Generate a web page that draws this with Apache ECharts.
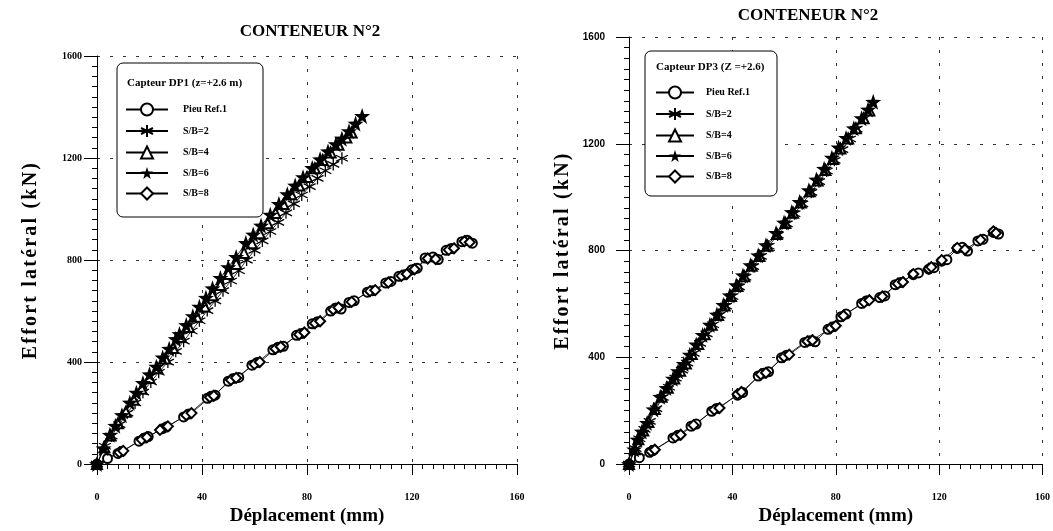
<!DOCTYPE html>
<html><head><meta charset="utf-8">
<script src="https://cdn.jsdelivr.net/npm/echarts@6/dist/echarts.min.js"></script>
<style>
html,body{margin:0;padding:0;background:#fff}
#c{width:1053px;height:531px}
</style>
</head><body><div id="c"></div><script>
// ---------- DATA ----------
const seriesNames = ['Pieu Ref.1','S/B=2','S/B=4','S/B=6','S/B=8'];
const chartTitles = ['CONTENEUR N°2','CONTENEUR N°2'];
const legendTitles = ['Capteur DP1 (z=+2.6 m)','Capteur DP3 (Z =+2.6)'];
const xAxisName = 'Déplacement (mm)';
const yAxisName = 'Effort latéral (kN)';
const xRange = [0,160,40];
const yRange = [0,1600,400];

// Left chart (DP1): [déplacement mm, effort kN]
const pieuL = [[0,0],[4,22],[8,42],[9.5,50],[16,90],[18,102],[19.5,108],[25,139],[26.5,146],[33,185],[35,196],[42,258],[43.5,266],[45,270],[50,325],[52,336],[54,340],[59,388],[61,398],[67,448],[69,458],[71,462],[76,505],[78,512],[82,550],[84,558],[89,600],[91,612],[93,608],[96,634],[98,640],[103,674],[105,680],[110,710],[112,716],[115,736],[117,742],[120,762],[122,768],[125,808],[128,812],[130,802],[133,838],[135,845],[139,872],[141,878],[143,866]];
const sb2L = [[0,0],[3,70],[5.5,110],[8.5,155],[11.5,200],[14.5,240],[17.5,282],[20.5,322],[23.5,360],[27,400],[30,442],[33,482],[36,522],[39,562],[42,602],[45,640],[48,680],[51,718],[54,758],[57,800],[60,838],[63,875],[66,912],[69,948],[72,985],[75,1020],[78,1055],[81,1088],[84,1120],[87,1150],[90,1175],[93.3,1199]];
const sb4L = [[0,0],[2.8,66],[5.2,112],[8,160],[11,205],[14,252],[17,295],[20,338],[23,376],[26,414],[29,455],[32,498],[35,538],[38,578],[41,618],[44,662],[47,702],[50,745],[53,785],[56,828],[59,866],[62,905],[65,944],[68,984],[71,1020],[74,1058],[77,1092],[80,1126],[83,1160],[86,1192],[89,1222],[92,1252],[95,1280],[97,1300]];
const sb6L = [[0,0],[2.5,62],[4.9,115],[7,150],[9.5,192],[12.5,241],[15,280],[17.5,318],[20,352],[22.6,382],[25,418],[27.5,452],[30,490],[31.4,510],[34,545],[36.5,580],[39,617],[41.5,652],[44,689],[47,730],[50,772],[53,812],[56.7,867],[59.5,900],[62.5,935],[66,978],[69.3,1020],[72.5,1058],[75.5,1092],[78.5,1125],[82,1161],[85,1195],[88,1226],[91,1254],[93.3,1276],[96,1305],[98.5,1335],[101,1365]];
const sb8L = [[0,0],[8.5,46],[10,52],[17,96],[19,105],[24,134],[27,148],[34,192],[36,200],[43,262],[44.5,268],[51,330],[53,338],[60,392],[62,400],[68,452],[70,460],[77,508],[79,516],[83,552],[85,560],[90,606],[92,614],[97,636],[104,678],[106,682],[111,712],[116,738],[118,745],[121,764],[126,806],[129,804],[134,840],[136,846],[140,874],[142,870]];

// Right chart (DP3)
const pieuR = [[0,0],[4,24],[8,44],[9.5,52],[17,98],[19,108],[24,142],[26,150],[32,198],[34,208],[42,258],[44,268],[50,330],[52,340],[54,346],[59,398],[61,408],[68,456],[70,462],[72,458],[77,505],[79,515],[82,552],[84,562],[90,602],[92,612],[97,624],[99,630],[103,672],[105,680],[110,710],[112,716],[116,730],[118,736],[121,760],[123,766],[127,808],[129,812],[131,798],[135,836],[137,842],[141,868],[143,862]];
const sb2R = [[0,0],[2.5,58],[4,95],[6,130],[8,160],[10.5,208],[13,250],[15.5,288],[18,322],[20.5,352],[22.5,378],[25,415],[27.5,452],[30,488],[32.5,522],[35,558],[37.5,592],[40,628],[42.5,664],[45,700],[48,740],[51,778],[54,816],[57.5,858],[61,900],[64,938],[67,975],[70.5,1018],[73.5,1058],[76.5,1098],[79.5,1138],[82.5,1178],[85.5,1218],[88,1255]];
const sb4R = [[0,0],[2.2,56],[3.6,93],[5.5,126],[7.5,158],[10,206],[12.6,252],[15,286],[17.5,321],[19.8,350],[22,377],[24.3,412],[26.8,450],[29.3,486],[32,522],[34.5,559],[37,594],[39.5,630],[42,667],[44.6,704],[47.5,743],[50.5,780],[53.5,818],[57.2,862],[60.5,903],[63.5,942],[66.5,980],[70,1022],[73,1062],[76,1102],[79,1143],[81.8,1182],[84.8,1220],[87.8,1258],[90.8,1296],[93,1325]];
const sb6R = [[0,0],[2,55],[3.3,92],[5,122],[7,154],[9.5,205],[12.1,252],[14.5,285],[17,320],[19,348],[21.2,375],[23.5,410],[26,448],[28.5,484],[31.3,522],[34,560],[36.5,596],[39,632],[41.5,670],[44.1,707],[47,745],[50,782],[53,820],[56.9,866],[60,905],[63,944],[66,982],[69.6,1026],[72.5,1066],[75.5,1106],[78.5,1148],[81.1,1186],[84,1222],[87,1258],[90,1296],[92.5,1328],[94.5,1357]];
const sb8R = [[0,0],[8.5,48],[10,54],[18,102],[20,110],[25,146],[33,204],[35,210],[42,262],[43.5,270],[51,336],[53,342],[60,402],[62,410],[69,460],[71,464],[78,510],[80,518],[83,556],[91,606],[93,614],[98,628],[104,676],[106,682],[110,712],[116,732],[117,738],[121,764],[127,810],[130,804],[136,840],[141,872],[142,866]];

// ---------- STYLE ----------
// wide letter spacing for the vertical axis title (20px text only)
(function(){
  const P = CanvasRenderingContext2D.prototype, f = P.fillText;
  P.fillText = function(t, x, y, m){
    if ('letterSpacing' in this) this.letterSpacing = /\b20px/.test(this.font) ? '2.2px' : '0px';
    return m === undefined ? f.call(this, t, x, y) : f.call(this, t, x, y, m);
  };
})();
const SERIF = '"Liberation Serif", "DejaVu Serif", serif';
const SANS = '"Liberation Sans", Arial, sans-serif';
const INK = '#000';
const STAR = 'path://M0,-10 L2.35,-3.24 L9.51,-3.09 L3.8,1.24 L5.88,8.09 L0,4 L-5.88,8.09 L-3.8,1.24 L-9.51,-3.09 L-2.35,-3.24 Z';
const ASTER = 'path://M0,-10 L0,10 M-8.66,-5 L8.66,5 M-8.66,5 L8.66,-5';
const markers = {
  'Pieu Ref.1': {symbol:'emptyCircle', size:9, item:{color:INK, borderWidth:1}},
  'S/B=2': {symbol:ASTER, size:12, item:{color:INK, borderColor:INK, borderWidth:1.3}},
  'S/B=4': {symbol:'emptyTriangle', size:10, item:{color:INK, borderWidth:1}},
  'S/B=6': {symbol:STAR, size:16, item:{color:INK}},
  'S/B=8': {symbol:'emptyDiamond', size:10, item:{color:INK, borderWidth:1}}
};
function mkSeries(name, data, gi){
  const m = markers[name];
  return {type:'line', name, data, xAxisIndex:gi, yAxisIndex:gi,
    symbol:m.symbol, symbolSize:m.size, itemStyle:m.item,
    lineStyle:{color:INK, width:0.8}, showAllSymbol:true, silent:true, animation:false};
}
const numFmt = v => String(v);
function mkX(gi){
  return {type:'value', gridIndex:gi, min:xRange[0], max:xRange[1], interval:xRange[2],
    axisLine:{show:true, lineStyle:{color:INK,width:1}},
    axisTick:{show:true, length:11, lineStyle:{color:INK,width:1}},
    minorTick:{show:true, splitNumber:10, length:5, lineStyle:{color:INK,width:1}},
    axisLabel:{color:INK, fontFamily:SERIF, fontWeight:'bold', fontSize:10, margin:28, formatter:numFmt},
    splitLine:{show:true, lineStyle:{color:'#333', width:1, type:[3,10]}},
    name:xAxisName, nameLocation:'middle', nameGap:41,
    nameTextStyle:{color:INK, fontFamily:SERIF, fontWeight:'bold', fontSize:19}};
}
function mkY(gi){
  return {type:'value', gridIndex:gi, min:yRange[0], max:yRange[1], interval:yRange[2],
    axisLine:{show:true, lineStyle:{color:INK,width:1}},
    axisTick:{show:true, length:13, lineStyle:{color:INK,width:1}},
    minorTick:{show:true, splitNumber:10, length:5, lineStyle:{color:INK,width:1}},
    axisLabel:{color:INK, fontFamily: gi===0 ? SERIF : SANS, fontWeight:'bold', fontSize:10, margin: gi===0 ? 15 : 24, formatter:numFmt},
    splitLine:{show:true, lineStyle:{color:'#333', width:1, type:[3,10]}},
    name:yAxisName, nameLocation:'middle', nameGap:56,
    nameTextStyle:{color:INK, fontFamily:SERIF, fontWeight:'bold', fontSize:20}};
}
function mkLegend(left, top, iw, textPad){
  return {show:true, orient:'vertical', left, top, padding:0, itemWidth:iw, itemHeight:15, itemGap:7.5,
    selectedMode:false, data:seriesNames, z:5,
    textStyle:{color:INK, fontFamily:SERIF, fontWeight:'bold', fontSize:10, padding:[0,0,0,textPad]}};
}

const order = ['Pieu Ref.1','S/B=8','S/B=2','S/B=4','S/B=6'];
const leftData = {'Pieu Ref.1':pieuL,'S/B=2':sb2L,'S/B=4':sb4L,'S/B=6':sb6L,'S/B=8':sb8L};
const rightData = {'Pieu Ref.1':pieuR,'S/B=2':sb2R,'S/B=4':sb4R,'S/B=6':sb6R,'S/B=8':sb8R};
const series = [];
order.forEach(n => series.push(mkSeries(n, leftData[n], 0)));
order.forEach(n => series.push(mkSeries(n, rightData[n], 1)));

const titleFont = 'bold 17px ' + SERIF;
const chart = echarts.init(document.getElementById('c'), null, {renderer:'canvas', width:1053, height:531});
chart.setOption({
  animation:false,
  backgroundColor:'#fff',
  grid:[
    {left:97, top:56, width:420, height:416},
    {left:629, top:37, width:418, height:434}
  ],
  xAxis:[mkX(0), mkX(1)],
  yAxis:[mkY(0), mkY(1)],
  legend:[mkLegend(125, 102.5, 42, 10), mkLegend(655, 85.5, 38, 7)],
  graphic:[
    {type:'text', x:310, y:32, style:{text:chartTitles[0], font:titleFont, fill:INK, align:'center', verticalAlign:'middle'}, z:10},
    {type:'text', x:808, y:16, style:{text:chartTitles[1], font:titleFont, fill:INK, align:'center', verticalAlign:'middle'}, z:10},
    {type:'rect', shape:{x:117, y:63, width:146, height:154, r:6}, style:{fill:'#fff', stroke:INK, lineWidth:1}, z:3},
    {type:'text', x:127, y:83, style:{text:legendTitles[0], font:'bold 11px ' + SERIF, fill:INK, verticalAlign:'middle'}, z:10},
    {type:'rect', shape:{x:645, y:51, width:132, height:145, r:6}, style:{fill:'#fff', stroke:INK, lineWidth:1}, z:3},
    {type:'text', x:656, y:67, style:{text:legendTitles[1], font:'bold 11px ' + SERIF, fill:INK, verticalAlign:'middle'}, z:10}
  ],
  series
});
</script></body></html>
